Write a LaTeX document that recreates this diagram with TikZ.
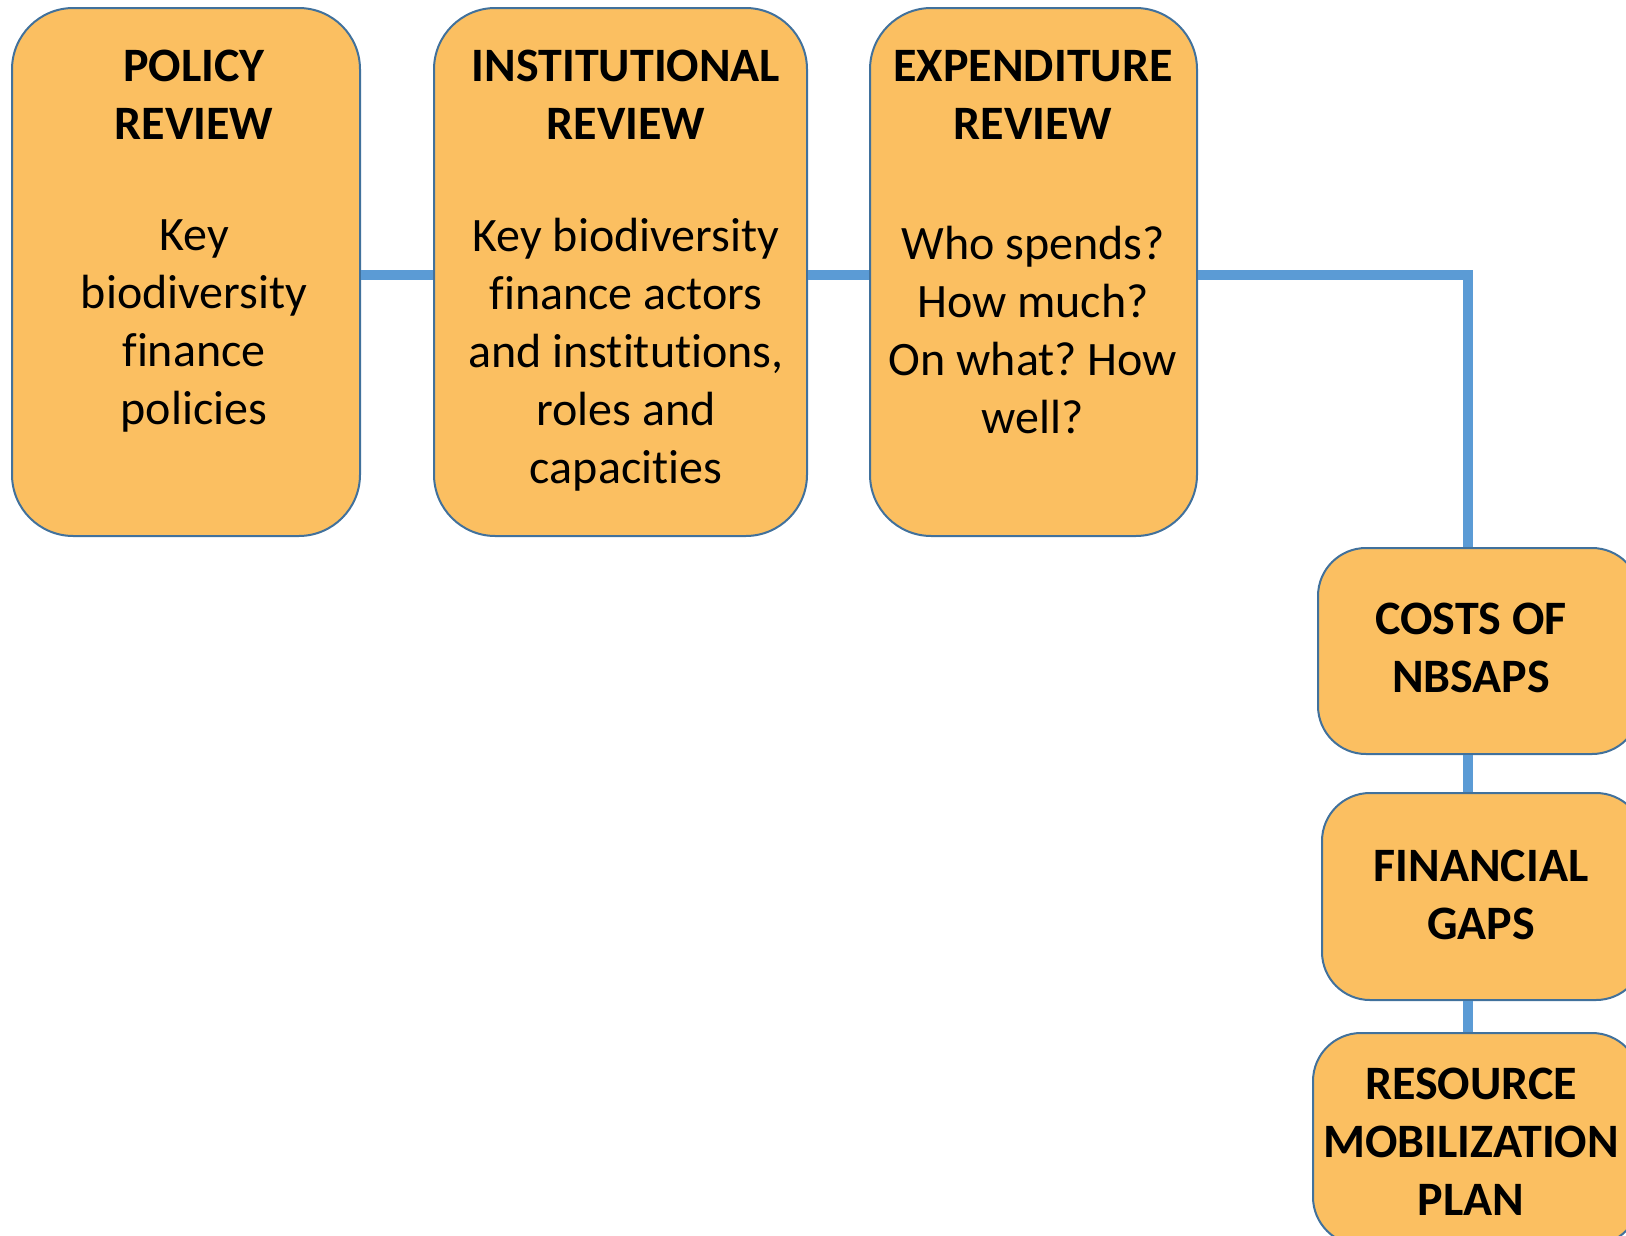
\documentclass[tikz,border=0pt]{standalone}
\usepackage{fontspec}
\setmainfont{Carlito}[RawFeature={-liga;-clig;-dlig}]
\definecolor{boxfill}{HTML}{FBBF61}
\definecolor{boxline}{HTML}{41719C}
\definecolor{conn}{HTML}{5B9BD5}
\frenchspacing
\begin{document}
\begin{tikzpicture}[x=0.75pt,y=-0.75pt,
  bigbox/.style={draw=boxline,fill=boxfill,line width=1.5pt,rounded corners=46pt,minimum height=396pt,inner sep=0pt},
  smallbox/.style={draw=boxline,fill=boxfill,line width=1.5pt,rounded corners=36pt,inner sep=0pt},
  ttl/.style={font=\fontsize{36}{43.5}\selectfont\bfseries,align=center,inner sep=0pt},
  bdy/.style={font=\fontsize{36}{43.5}\selectfont,align=center,inner sep=0pt},
  link/.style={conn,line width=7.5pt}]
\useasboundingbox (0,0) rectangle (1626,1235);
\clip (0,0) rectangle (1626,1235);
% boxes
\node[bigbox,minimum width=261pt] (b1) at (186,272) {};
\node[bigbox,minimum width=279.75pt] (b2) at (620.5,272) {};
\node[bigbox,minimum width=245.25pt] (b3) at (1033.5,272) {};
\node[smallbox,minimum width=241.5pt,minimum height=154.5pt] (b4) at (1479,651) {};
\node[smallbox,minimum width=241.5pt,minimum height=155.25pt] (b5) at (1483,896.5) {};
\node[smallbox,minimum width=245.25pt,minimum height=159pt] (b6) at (1476.5,1139) {};
% texts
\node[ttl] (t1) at (194,95) {POLICY\\REVIEW};
\node[bdy] (d1) at (194,326) {Key\\biodiversity\\finance\\policies};
\node[ttl] (t2) at (626,95) {INSTITUTIONAL\\REVIEW};
\node[bdy] (d2) at (626,355) {Key biodiversity\\finance actors\\and institutions,\\roles and\\capacities};
\node[ttl] (t3) at (1033,95) {EXPENDITURE\\REVIEW};
\node[bdy] (d3) at (1033,330) {Who spends?\\How much?\\On what? How\\well?};
\node[ttl] (t4) at (1471,648) {COSTS OF\\NBSAPS};
\node[ttl] (t5) at (1481,895) {FINANCIAL\\GAPS};
\node[ttl] (t6) at (1471,1142) {RESOURCE\\MOBILIZATION\\PLAN};
% connectors
\coordinate (k) at (1468,275);
\draw[link] (b1.east |- k) -- (b2.west |- k);
\draw[link] (b2.east |- k) -- (b3.west |- k);
\draw[link] (b3.east |- k) -- (k) -- (k |- b4.north);
\draw[link] (k |- b4.south) -- (k |- b5.north);
\draw[link] (k |- b5.south) -- (k |- b6.north);
\end{tikzpicture}
\end{document}
